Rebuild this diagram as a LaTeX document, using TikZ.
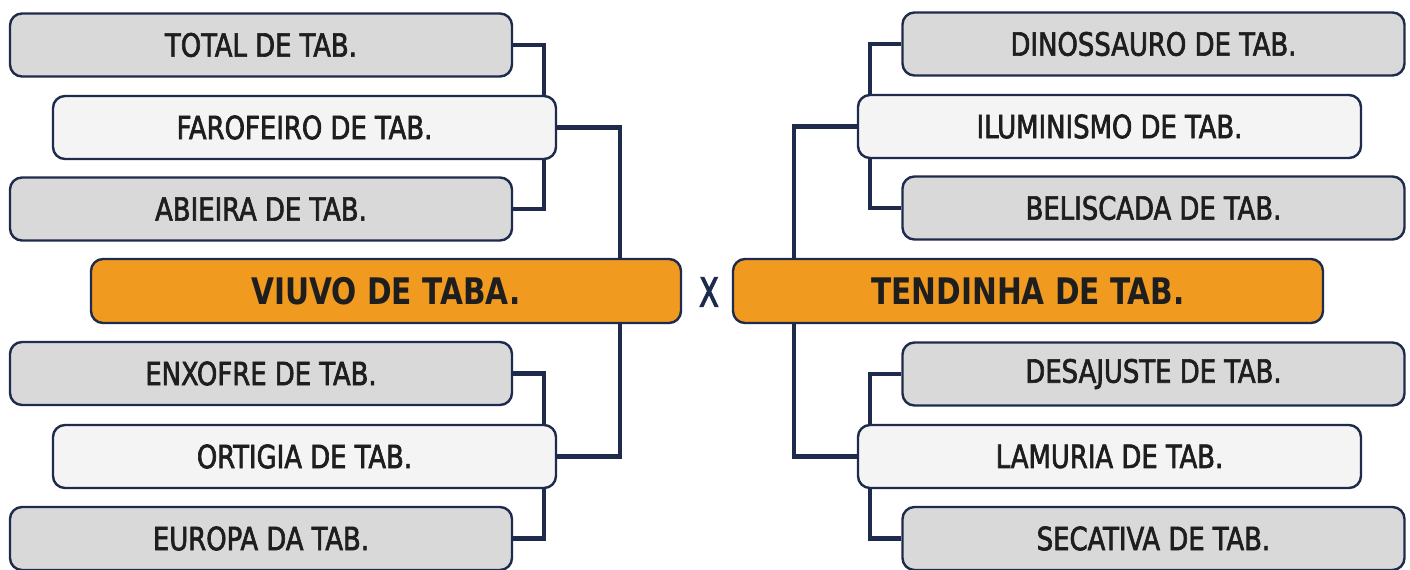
\documentclass[tikz,border=0pt]{standalone}
\usepackage{fontspec}
\setmainfont{DejaVu Sans Condensed}
\newfontfamily\teamfont[FakeStretch=0.9, FakeBold=2]{DejaVu Sans Condensed}
\newfontfamily\finalfont[FakeStretch=0.9]{DejaVu Sans Condensed}
\newfontfamily\versusfont[FakeStretch=0.8, FakeBold=2.5]{DejaVu Sans Condensed}
\usetikzlibrary{backgrounds}

\definecolor{navy}{HTML}{1F2B4D}
\definecolor{boxgray}{HTML}{D9D9D9}
\definecolor{boxlight}{HTML}{F4F4F4}
\definecolor{boxorange}{HTML}{F09A20}
\definecolor{ink}{HTML}{1E1E1E}

\tikzset{
  team/.style={draw=navy, line width=1.2pt, rounded corners=6pt,
    minimum height=31.5pt, text=ink, font=\teamfont\fontsize{16}{19}\selectfont},
  outer/.style={team, fill=boxgray, minimum width=251pt},
  inner/.style={team, fill=boxlight, minimum width=251.5pt},
  final/.style={team, fill=boxorange, minimum width=295pt, minimum height=32pt,
    font=\finalfont\bfseries\fontsize{18.3}{21}\selectfont},
  link/.style={draw=navy, line width=2.1pt}
}

\begin{document}
\begin{tikzpicture}[x=0.5pt, y=-0.5pt]
    \useasboundingbox (0,0) rectangle (1410,569);

    % left bracket
    \node[outer] (total) at (261,45) {TOTAL DE TAB.};
    \node[inner] (farofeiro) at (304.5,127.5) {FAROFEIRO DE TAB.};
    \node[outer] (abieira) at (261,209) {ABIEIRA DE TAB.};
    \node[final] (viuvo) at (386,291) {VIUVO DE TABA.};
    \node[outer] (enxofre) at (261,373.5) {ENXOFRE DE TAB.};
    \node[inner] (ortigia) at (304.5,456.5) {ORTIGIA DE TAB.};
    \node[outer] (europa) at (261,538.5) {EUROPA DA TAB.};

    % right bracket
    \node[outer] (dinossauro) at (1153.5,44) {DINOSSAURO DE TAB.};
    \node[inner] (iluminismo) at (1109.5,126.5) {ILUMINISMO DE TAB.};
    \node[outer] (beliscada) at (1153.5,208) {BELISCADA DE TAB.};
    \node[final] (tendinha) at (1028,291) {TENDINHA DE TAB.};
    \node[outer] (desajuste) at (1153.5,374) {DESAJUSTE DE TAB.};
    \node[inner] (lamuria) at (1109.5,456.5) {LAMURIA DE TAB.};
    \node[outer] (secativa) at (1153.5,538.5) {SECATIVA DE TAB.};

    \node[text=navy, font=\versusfont\fontsize{20}{24}\selectfont] (versus) at (709,292) {X};

    \begin{pgfonlayer}{background}
        \draw[link] (total.east) -- ++(31,0) |- (abieira.east);
        \draw[link] (enxofre.east) -- ++(31,0) |- (europa.east);
        \draw[link] (farofeiro.east) -- ++(63,0) |- (ortigia.east);
        \draw[link] (dinossauro.west) -- ++(-31,0) |- (beliscada.west);
        \draw[link] (desajuste.west) -- ++(-31,0) |- (secativa.west);
        \draw[link] (iluminismo.west) -- ++(-63,0) |- (lamuria.west);
    \end{pgfonlayer}
\end{tikzpicture}
\end{document}
